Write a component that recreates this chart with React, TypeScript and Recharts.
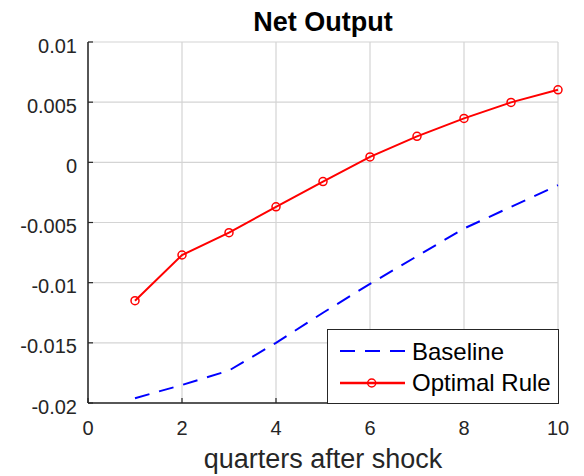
import { LineChart, Line, XAxis, YAxis, CartesianGrid } from "recharts";

const quarters = [1, 2, 3, 4, 5, 6, 7, 8, 9, 10];
const baseline = [
  -0.0196, -0.0185, -0.0173, -0.0150, -0.0125, -0.0101, -0.0078, -0.0055, -0.0037, -0.0019,
];
const optimalRule = [
  -0.0115, -0.0077, -0.00585, -0.0037, -0.0016, 0.00045, 0.00216, 0.00365, 0.00498, 0.00603,
];

const xTicks = [0, 2, 4, 6, 8, 10];
const yTicks = [-0.02, -0.015, -0.01, -0.005, 0, 0.005, 0.01];
const yTickLabels = ["-0.02", "-0.015", "-0.01", "-0.005", "0", "0.005", "0.01"];

const titleText = "Net Output";
const xLabelText = "quarters after shock";
const seriesNames = ["Baseline", "Optimal Rule"];

const data = quarters.map((q, i) => ({
  q,
  baseline: baseline[i],
  optimal: optimalRule[i],
}));

const FONT = "'Liberation Sans', Arial, Helvetica, sans-serif";
const INK = "#262626";
const BLUE = "#0000ff";
const RED = "#ff0000";

function XTick(props: any) {
  const { x, y, payload } = props;
  return (
    <g>
      <line x1={x} x2={x} y1={y} y2={y - 5} stroke={INK} strokeWidth={1.2} />
      <text x={x} y={y + 32} textAnchor="middle" fontSize={20} fontFamily={FONT} fill={INK}>
        {payload.value}
      </text>
    </g>
  );
}

function YTick(props: any) {
  const { x, y, index } = props;
  return (
    <g>
      <line x1={x} x2={x + 5} y1={y} y2={y} stroke={INK} strokeWidth={1.2} />
      <text x={x - 11} y={y + 10.5} textAnchor="end" fontSize={20} fontFamily={FONT} fill={INK}>
        {yTickLabels[index]}
      </text>
    </g>
  );
}

function XLabel(props: any) {
  const { viewBox } = props;
  return (
    <text
      x={viewBox.x + viewBox.width / 2}
      y={viewBox.y + 65}
      textAnchor="middle"
      fontSize={27}
      fontFamily={FONT}
      fill={INK}
    >
      {xLabelText}
    </text>
  );
}

function LegendBox() {
  return (
    <svg
      width={232}
      height={75}
      style={{ position: "absolute", left: 327, top: 329, overflow: "visible" }}
    >
      <rect x={0.5} y={0.5} width={231} height={74} fill="#fff" stroke={INK} strokeWidth={1} />
      <line x1={13} x2={78} y1={22} y2={22} stroke={BLUE} strokeWidth={2} strokeDasharray="15 10" />
      <text x={85} y={30.5} fontSize={24} fontFamily={FONT} fill="#000">
        {seriesNames[0]}
      </text>
      <line x1={13} x2={78} y1={54} y2={54} stroke={RED} strokeWidth={2.5} />
      <circle cx={44.7} cy={54} r={4} fill="none" stroke={RED} strokeWidth={1.5} />
      <text x={85} y={62} fontSize={24} fontFamily={FONT} fill="#000">
        {seriesNames[1]}
      </text>
    </svg>
  );
}

export default function App() {
  return (
    <div
      style={{
        position: "absolute",
        left: 0,
        top: 0,
        width: 584,
        height: 476,
        background: "#fff",
        fontFamily: FONT,
      }}
    >
      <div
        style={{
          position: "absolute",
          left: 0,
          top: 8.5,
          width: 646,
          textAlign: "center",
          fontSize: 27,
          lineHeight: "27px",
          fontWeight: "bold",
          color: "#000",
        }}
      >
        {titleText}
      </div>
      <LineChart
        width={584}
        height={476}
        data={data}
        margin={{ top: 42, right: 26, bottom: 0, left: 0 }}
      >
        <CartesianGrid stroke="#d4d4d4" strokeWidth={1.2} />
        <XAxis
          dataKey="q"
          type="number"
          domain={[0, 10]}
          ticks={xTicks}
          height={73}
          tickSize={0}
          tickMargin={0}
          tickLine={false}
          axisLine={{ stroke: INK, strokeWidth: 1.5 }}
          tick={<XTick />}
          label={<XLabel />}
        />
        <YAxis
          type="number"
          domain={[-0.02, 0.01]}
          ticks={yTicks}
          width={88}
          tickSize={0}
          tickMargin={0}
          tickLine={false}
          axisLine={{ stroke: INK, strokeWidth: 1.5 }}
          tick={<YTick />}
        />
        <Line
          type="linear"
          dataKey="baseline"
          stroke={BLUE}
          strokeWidth={2}
          strokeDasharray="15 10"
          dot={false}
          isAnimationActive={false}
        />
        <Line
          type="linear"
          dataKey="optimal"
          stroke={RED}
          strokeWidth={2}
          dot={{ r: 4, stroke: RED, strokeWidth: 1.5, fill: "none" }}
          isAnimationActive={false}
        />
      </LineChart>
      <LegendBox />
    </div>
  );
}
